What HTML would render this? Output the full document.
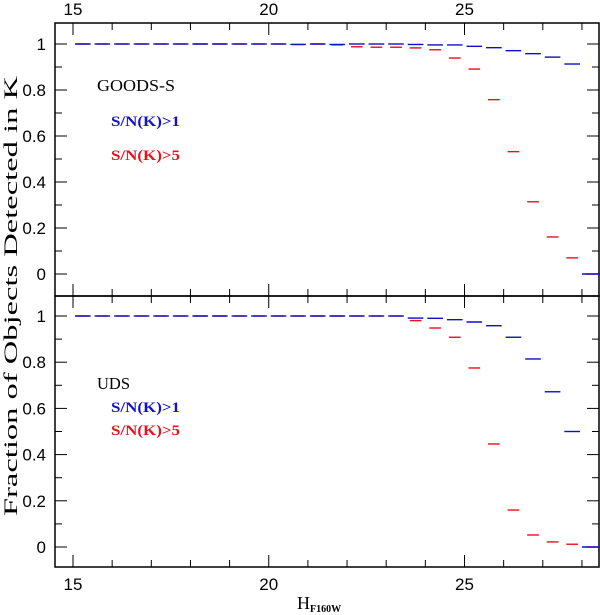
<!DOCTYPE html>
<html><head><meta charset="utf-8"><style>
body{margin:0;background:#fff;width:600px;height:615px;overflow:hidden}
svg{display:block;font-family:"Liberation Sans",sans-serif}
</style></head><body>
<svg id="c" width="600" height="615"></svg>
<script>
const centers=[15.25,15.75,16.25,16.75,17.25,17.75,18.25,18.75,19.25,19.75,20.25,20.75,21.25,21.75,22.25,22.75,23.25,23.75,24.25,24.75,25.25,25.75,26.25,26.75,27.25,27.75,28.25];
const goodsBlue=[1,1,1,1,1,1,1,1,1,1,1,0.998,1,0.998,1,1,1,0.998,0.996,0.996,0.99,0.984,0.971,0.958,0.943,0.913,0];
const goodsRed=[1,1,1,1,1,1,1,1,1,1,1,0.998,1,0.996,0.988,0.986,0.986,0.983,0.975,0.939,0.891,0.758,0.532,0.314,0.161,0.07,0];
const udsBlue=[1,1,1,1,1,1,1,1,1,1,1,1,1,1,1,1,1,0.991,0.99,0.984,0.974,0.958,0.908,0.814,0.672,0.5,0];
const udsRed=[1,1,1,1,1,1,1,1,1,1,1,1,1,1,1,1,1,0.98,0.948,0.908,0.775,0.446,0.16,0.052,0.022,0.012,0];
const xTicks=[15,20,25];
const yTicks=[0,0.2,0.4,0.6,0.8,1];
const NS="http://www.w3.org/2000/svg";
const svg=document.getElementById('c');
const L=55,R=599;
const sx=v=>73+(v-15)*39.15;
function mk(t,a,p){const e=document.createElementNS(NS,t);for(const k in a)e.setAttribute(k,a[k]);(p||svg).appendChild(e);return e;}
function panel(name,top,bot,y1,y0,blue,red,label,lw,ly,o1,o2){
  const g=mk('g',{});
  
  
  const sy=v=>y0+(y1-y0)*v;
  const fr=mk('rect',{x:L,y:top,width:R-L,height:bot-top,fill:'none',stroke:'#000','stroke-width':1.5},g);
  
  
  for(let x=15;x<=28;x++){const big=x%5==0;const len=big?12:7;
    mk('line',{x1:sx(x),x2:sx(x),y1:bot,y2:bot-len,stroke:'#000','stroke-width':1},g);
    mk('line',{x1:sx(x),x2:sx(x),y1:top,y2:top+len,stroke:'#000','stroke-width':1},g);}
  for(let i=-1;i<=10;i++){const v=i/10;const big=i%2==0;const len=big?12:7;const y=sy(v);
    if(y<top||y>bot)continue;
    mk('line',{x1:L,x2:L+len,y1:y,y2:y,stroke:'#000','stroke-width':1},g);
    mk('line',{x1:R,x2:R-len,y1:y,y2:y,stroke:'#000','stroke-width':1},g);}
  yTicks.forEach(v=>{const t=mk('text',{x:46,y:sy(v)+6,'text-anchor':'end','font-size':17},g);t.textContent=v;
    
    });
  red.forEach((v,i)=>{const c=centers[i];const l=mk('line',{x1:sx(c-0.15),x2:sx(c+0.15),y1:sy(v),y2:sy(v),stroke:'#e8101a','stroke-width':1.4},g);
    
    });
  blue.forEach((v,i)=>{const c=centers[i];const w=c>28?0.25:0.2;const l=mk('line',{x1:sx(c-w),x2:sx(c+w),y1:sy(v),y2:sy(v),stroke:'#1010c0','stroke-width':1.4},g);
    
    });
  const t1=mk('text',{x:97,y:ly,'font-size':17,'font-family':'Liberation Serif,serif',fill:'#000',textLength:lw,lengthAdjust:'spacingAndGlyphs'},g);t1.textContent=label;
  
  
  const t2=mk('text',{x:111,y:ly+o1,'font-size':15,'font-weight':'bold','font-family':'Liberation Serif,serif',fill:'#1010d0',textLength:69,lengthAdjust:'spacingAndGlyphs'},g);t2.textContent='S/N(K)>1';
  
  
  const t3=mk('text',{x:111,y:ly+o2,'font-size':15,'font-weight':'bold','font-family':'Liberation Serif,serif',fill:'#e8101a',textLength:69,lengthAdjust:'spacingAndGlyphs'},g);t3.textContent='S/N(K)>5';
  
  
}
panel('goods-s',23,296,44,274,goodsBlue,goodsRed,'GOODS-S',78,91,35,69);
panel('uds',296,567,316,547,udsBlue,udsRed,'UDS',33,389,23,46);
xTicks.forEach(v=>{
  const a=mk('text',{x:sx(v),y:15,'text-anchor':'middle','font-size':17});a.textContent=v;
  
  
  const b=mk('text',{x:sx(v),y:590,'text-anchor':'middle','font-size':17});b.textContent=v;
  
  
});
const xt=mk('text',{x:297,y:609,'font-size':18,'font-family':'Liberation Serif,serif'});


xt.innerHTML='H<tspan font-size="10" font-weight="bold" dy="3">F160W</tspan>';
const yt=mk('text',{x:0,y:0,'font-size':19,'font-family':'Liberation Serif,serif','text-anchor':'middle',textLength:440,lengthAdjust:'spacingAndGlyphs',transform:'translate(17,296) rotate(-90)'});


yt.textContent='Fraction of Objects Detected in K';
</script>
</body></html>
